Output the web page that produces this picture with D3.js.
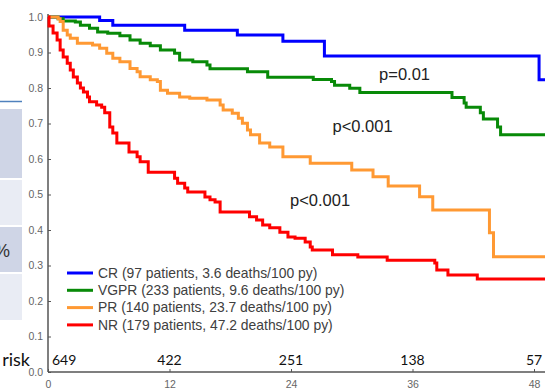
<!DOCTYPE html>
<html>
<head>
<meta charset="utf-8">
<script src="https://cdn.jsdelivr.net/npm/d3@7"></script>
<style>
  body { margin: 0; background: #fff; }
  svg { display: block; }
</style>
</head>
<body>
<div id="chart"></div>
<script>
const width = 545;
const height = 389;

// step times (months) and survival after each step
const crTimes = [0, 5.1, 6.4, 13.5, 18.7, 23.2, 27.3, 48.5, 49.2];
const crSurv = [1.0, 0.990, 0.977, 0.963, 0.949, 0.932, 0.890, 0.823, 0.823];

const vgprTimes = [0, 1.0, 1.5, 2.7, 3.2, 4.1, 4.9, 5.9, 7.1, 8.1, 9.1, 10.1, 11.1, 12.5, 13.0, 14.3, 15.7, 16.0, 19.7, 21.7,
    26.2, 28.0, 28.3, 29.8, 30.8, 39.9, 41.1, 41.3, 42.7, 43.0, 44.4, 44.7, 49.2];
const vgprSurv = [1.0, 0.995, 0.989, 0.986, 0.977, 0.968, 0.958, 0.954, 0.947, 0.935, 0.926, 0.919, 0.907, 0.898, 0.879, 0.874, 0.865, 0.854, 0.846, 0.830,
    0.824, 0.818, 0.808, 0.799, 0.787, 0.773, 0.758, 0.746, 0.730, 0.713, 0.690, 0.668, 0.668];

const prTimes = [0, 1.0, 1.2, 1.5, 1.9, 2.2, 2.9, 4.4, 5.1, 5.8, 6.4, 7.1, 8.1, 8.8, 9.1, 10.1, 10.8, 11.1, 11.8, 13.0, 14.0,
    15.7, 17.0, 17.3, 18.2, 18.8, 19.2, 19.7, 20.0, 20.9, 21.9, 23.2, 25.9, 30.0, 32.1, 33.6, 36.7, 38.0, 43.6, 44.0, 49.2];
const prSurv = [1.0, 0.995, 0.987, 0.963, 0.949, 0.940, 0.926, 0.921, 0.912, 0.898, 0.884, 0.874, 0.855, 0.846, 0.832, 0.823, 0.818, 0.794, 0.785, 0.775, 0.771,
    0.766, 0.752, 0.738, 0.729, 0.715, 0.701, 0.682, 0.668, 0.645, 0.634, 0.606, 0.588, 0.569, 0.550, 0.524, 0.494, 0.456, 0.392, 0.325, 0.325];

const nrTimes = [0, 0.1, 0.5, 0.9, 1.2, 1.5, 1.9, 2.2, 2.5, 2.9, 3.2, 3.5, 3.9, 4.1, 4.8, 5.3, 5.6, 6.1, 6.4, 6.8, 8.0, 8.8, 9.1, 9.9,
    12.5, 12.8, 13.5, 13.8, 15.5, 16.0, 16.5, 17.0, 19.9, 20.6, 21.2, 21.9, 22.9, 23.7, 24.4, 25.4, 25.9, 26.1, 28.1, 30.6, 33.5,
    38.2, 38.4, 39.5, 42.4, 49.2];
const nrSurv = [1.0, 0.975, 0.955, 0.935, 0.907, 0.887, 0.870, 0.851, 0.831, 0.814, 0.800, 0.789, 0.775, 0.761, 0.752, 0.746, 0.730, 0.690, 0.673, 0.645, 0.620, 0.606, 0.592, 0.563,
    0.546, 0.532, 0.518, 0.507, 0.493, 0.485, 0.479, 0.451, 0.437, 0.428, 0.414, 0.406, 0.394, 0.380, 0.377, 0.366, 0.352, 0.344, 0.330, 0.324, 0.315,
    0.307, 0.287, 0.273, 0.262, 0.262];

const seriesNames = ['CR', 'VGPR', 'PR', 'NR'];
const seriesLabels = [
    'CR (97 patients, 3.6 deaths/100 py)',
    'VGPR (233 patients, 9.6 deaths/100 py)',
    'PR (140 patients, 23.7 deaths/100 py)',
    'NR (179 patients, 47.2 deaths/100 py)'
];
const seriesColors = ['#0000ff', '#088a08', '#ff9933', '#ff0000'];

const xTicks = [0, 12, 24, 36, 48];
const atRisk = [649, 422, 251, 138, 57];
const pValues = ['p=0.01', 'p<0.001', 'p<0.001'];
// where each p label sits (month, survival)
const pPos = [[32.7, 0.839], [28.1, 0.693], [23.9, 0.485]];

const series = [
    { times: crTimes, surv: crSurv },
    { times: vgprTimes, surv: vgprSurv },
    { times: prTimes, surv: prSurv },
    { times: nrTimes, surv: nrSurv }
];

const svg = d3.select('#chart')
    .append('svg')
    .attr('width', width)
    .attr('height', height);

// cut-off table on the left
const leftBoxes = [[109, 178, '#cfd5e6'], [180, 225, '#e9ecf4'], [227, 272, '#cfd5e6'], [274, 320, '#e9ecf4']];
svg.append('line')
    .attr('x1', 0).attr('x2', 22)
    .attr('y1', 101.5).attr('y2', 101.5)
    .attr('stroke', '#4f81bd')
    .attr('stroke-width', 1.5);
svg.selectAll('.lbox')
    .data(leftBoxes)
    .enter()
    .append('rect')
    .attr('class', 'lbox')
    .attr('x', 0)
    .attr('y', d => d[0])
    .attr('width', 22)
    .attr('height', d => d[1] - d[0])
    .attr('fill', d => d[2]);
svg.append('text')
    .attr('x', -6).attr('y', 257)
    .attr('font-family', 'Liberation Sans, Arial, sans-serif')
    .attr('font-size', 18)
    .attr('fill', '#333')
    .text('%');
svg.append('text')
    .attr('x', -5).attr('y', 127)
    .attr('font-family', 'Liberation Sans, Arial, sans-serif')
    .attr('font-size', 14)
    .attr('fill', '#666')
    .text('’');

const xScale = d3.scaleLinear()
    .domain([0, 48])
    .range([48, 534]);

const yScale = d3.scaleLinear()
    .domain([0, 1])
    .range([372, 17]);

const yAxis = d3.axisLeft(yScale)
    .tickValues(d3.range(0, 1.01, 0.1))
    .tickFormat(d3.format('.1f'))
    .tickSizeInner(-3)
    .tickSizeOuter(0)
    .tickPadding(5);

const xAxis = d3.axisBottom(xScale)
    .tickValues(xTicks)
    .tickSizeInner(-3)
    .tickSizeOuter(0)
    .tickPadding(9);

const gy = svg.append('g')
    .attr('transform', `translate(${xScale(0)}, 0)`)
    .call(yAxis);
gy.select('.domain').attr('d', `M0,14V${yScale(0)}`);

const gx = svg.append('g')
    .attr('transform', `translate(0, ${yScale(0)})`)
    .call(xAxis);
gx.select('.domain').attr('d', `M${xScale(0)},0H${width}`);

[gx, gy].forEach(g => {
    g.select('.domain').attr('stroke', '#555').attr('stroke-width', 1.5);
    g.selectAll('.tick line').attr('stroke', '#555');
    g.selectAll('.tick text')
        .attr('fill', '#666')
        .attr('font-family', 'Liberation Sans, Arial, sans-serif')
        .attr('font-size', 10.5);
});

const line = d3.line()
    .x(d => xScale(d[0]))
    .y(d => yScale(d[1]))
    .curve(d3.curveStepAfter);

svg.selectAll('.km')
    .data(series)
    .enter()
    .append('path')
    .attr('class', 'km')
    .attr('fill', 'none')
    .attr('stroke', (d, i) => seriesColors[i])
    .attr('stroke-width', 3)
    .attr('d', d => line(d.times.map((t, i) => [t, d.surv[i]])));

// legend
const legend = svg.append('g')
    .attr('transform', 'translate(67, 273)');

seriesNames.forEach((name, i) => {
    legend.append('line')
        .attr('x1', 0).attr('x2', 26)
        .attr('y1', i * 17.3).attr('y2', i * 17.3)
        .attr('stroke', seriesColors[i])
        .attr('stroke-width', 3);
    legend.append('text')
        .attr('x', 31)
        .attr('y', i * 17.3)
        .attr('dy', '0.35em')
        .attr('font-family', 'Liberation Sans, Arial, sans-serif')
        .attr('font-size', 13.9)
        .attr('fill', '#404040')
        .text(seriesLabels[i]);
});

// p values
svg.selectAll('.pval')
    .data(pValues)
    .enter()
    .append('text')
    .attr('class', 'pval')
    .attr('x', (d, i) => xScale(pPos[i][0]))
    .attr('y', (d, i) => yScale(pPos[i][1]))
    .attr('dy', '0.35em')
    .attr('font-family', 'Liberation Sans, Arial, sans-serif')
    .attr('font-size', 16.5)
    .attr('fill', '#222')
    .text(d => d);

// number at risk
svg.append('text')
    .attr('x', 30)
    .attr('y', 360)
    .attr('dy', '0.35em')
    .attr('text-anchor', 'end')
    .attr('font-family', 'Lato, Open Sans, sans-serif')
    .attr('font-size', 18)
    .attr('fill', '#111')
    .text('At risk');

svg.selectAll('.risk')
    .data(atRisk)
    .enter()
    .append('text')
    .attr('class', 'risk')
    .attr('x', (d, i) => i === 0 ? xScale(xTicks[i]) + 4 : xScale(xTicks[i]))
    .attr('y', 360)
    .attr('dy', '0.35em')
    .attr('text-anchor', (d, i) => i === 0 ? 'start' : 'middle')
    .attr('font-family', 'Lato, Open Sans, sans-serif')
    .attr('font-size', 14)
    .attr('fill', '#111')
    .text(d => d);
</script>
</body>
</html>
